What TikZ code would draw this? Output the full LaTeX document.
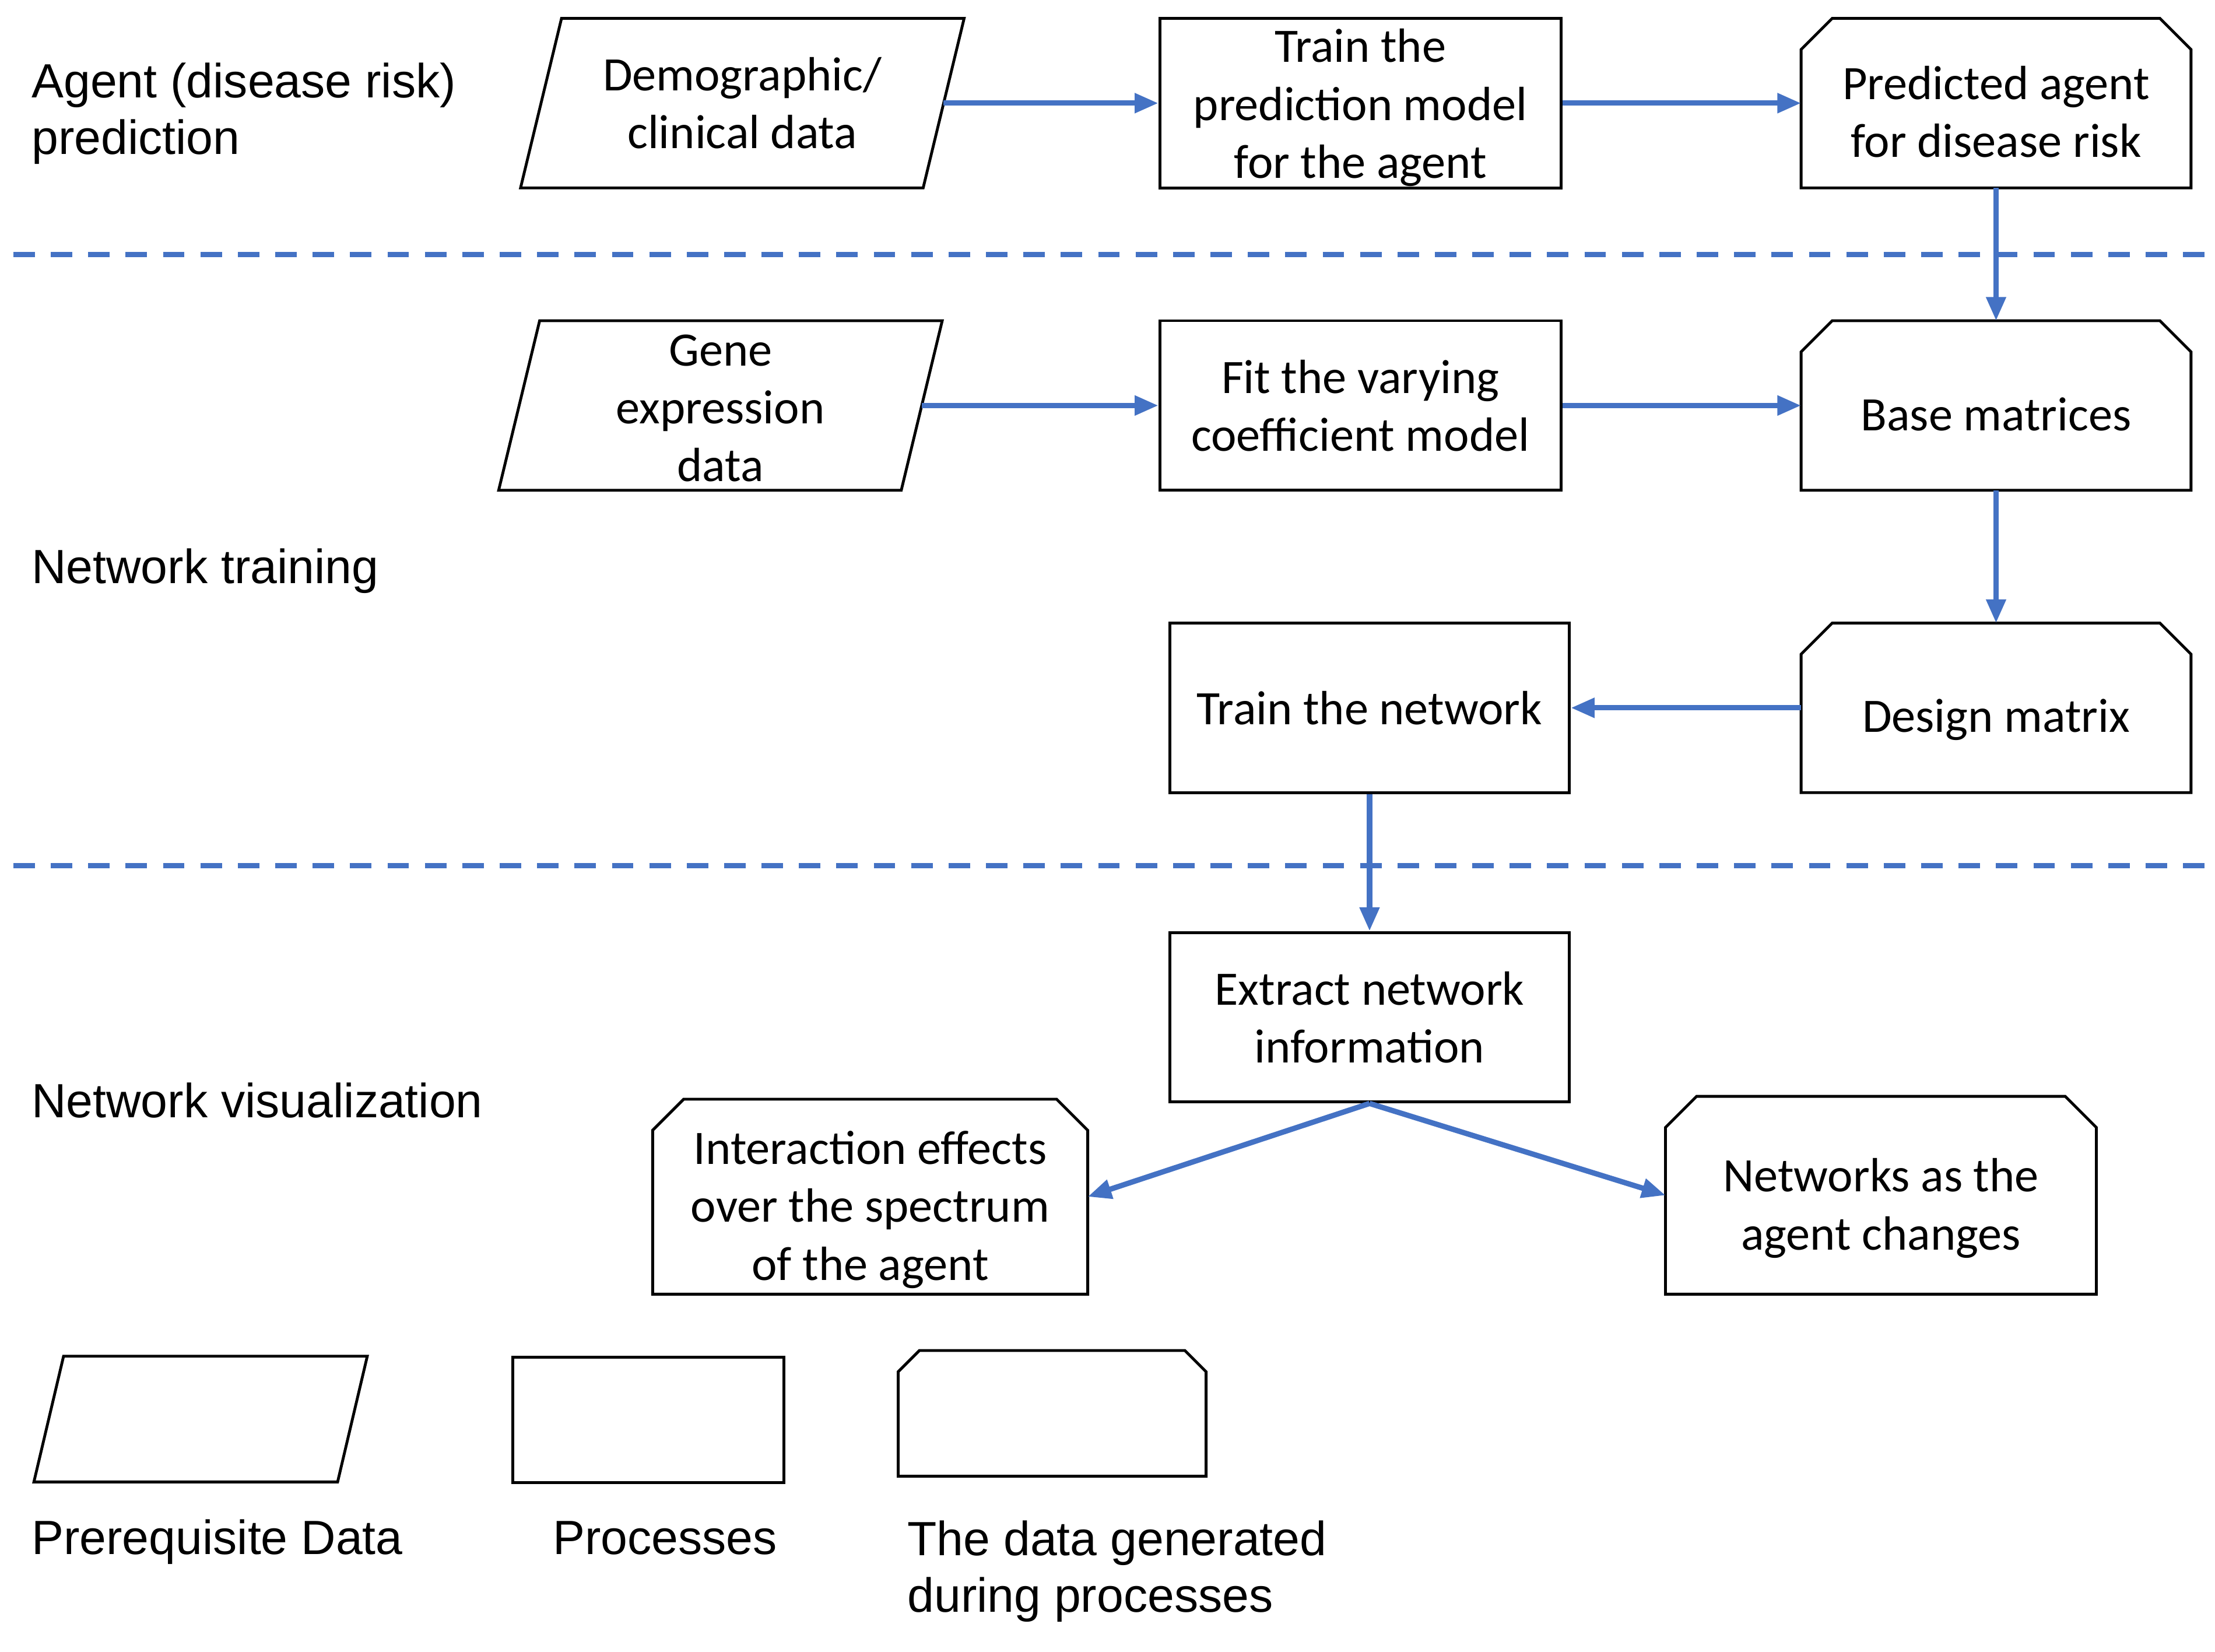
\documentclass[tikz,border=0pt]{standalone}
\usepackage{fontspec}
\setmainfont{Carlito}
\newfontfamily\labelfont{Liberation Sans}
\usepackage{tikz}
\usetikzlibrary{shapes,arrows.meta,positioning}
\definecolor{flowblue}{HTML}{4472C4}
\tikzstyle{boxtext}=[font=\fontsize{17}{20.5}\selectfont,align=center,inner sep=0pt]
\tikzstyle{prereq}=[boxtext,rectangle,outer sep=0pt,minimum width=142.5pt,minimum height=60pt]
\tikzstyle{process}=[boxtext,rectangle,draw=black,line width=1pt,minimum width=142pt,minimum height=60pt]
\tikzstyle{generated}=[boxtext,rectangle,outer sep=0pt,minimum width=138pt,minimum height=60pt]
\tikzstyle{outline}=[draw=black,line width=1pt,line join=miter]
\tikzstyle{flow}=[-{Triangle[length=8.4pt,width=6.7pt]},draw=flowblue,line width=1.9pt]
\tikzstyle{sep}=[draw=flowblue,line width=1.85pt,dash pattern=on 7.6pt off 5.64pt]
\tikzstyle{lbl}=[font=\labelfont\fontsize{17}{20}\selectfont,align=left,inner sep=0pt]
% Umrisse: schraeges Parallelogramm, Rechteck mit abgeschnittenen oberen Ecken
\newcommand{\slantbox}[2]{\draw[outline] ([xshift=#2]#1.north west) -- ([xshift=#2]#1.north east) -- ([xshift=-#2]#1.south east) -- ([xshift=-#2]#1.south west) -- cycle;}
\newcommand{\snipbox}[2]{\draw[outline] ([yshift=-#2]#1.north west) -- ([xshift=#2]#1.north west) -- ([xshift=-#2]#1.north east) -- ([yshift=-#2]#1.north east) -- (#1.south east) -- (#1.south west) -- cycle;}
\newcommand{\lift}[1]{\rule{0pt}{#1}}

\begin{document}
\begin{tikzpicture}
    \useasboundingbox (0,0) rectangle (784pt,-584.5pt);

    % Trennlinien
    \draw[sep] (4.75pt,-90.1pt) -- (780.5pt,-90.1pt);
    \draw[sep] (4.75pt,-306.4pt) -- (780.5pt,-306.4pt);

    % Bereiche
    \node[lbl, anchor=west] (stage1) at (11pt,-40.25pt) {Agent (disease risk)\\prediction};
    \node[lbl, anchor=base west] (stage2) at (11pt,-206.5pt) {Network training};
    \node[lbl, anchor=base west] (stage3) at (11pt,-395.5pt) {Network visualization};

    % Knoten
    \node[process] (trainpred) at (481.5pt,-36.5pt) {\lift{15pt}Train the\\prediction model\\for the agent};
    \node[prereq] (demo) [left=76pt of trainpred] {Demographic/\\clinical data};
    \node[generated] (predagent) [right=84.5pt of trainpred] {\lift{18pt}Predicted agent\\for disease risk};
    \node[generated] (basemat) [below=47pt of predagent] {\lift{18pt}Base matrices};
    \node[process] (fitvc) [left=84.5pt of basemat] {Fit the varying\\coefficient model};
    \node[prereq] (gene) [left=83.75pt of fitvc] {\lift{13pt}Gene\\expression\\data};
    \node[generated] (design) [below=47pt of basemat] {\lift{20pt}Design matrix};
    \node[process, minimum width=141.5pt] (trainnet) [left=81.5pt of design] {Train the network};
    \node[process, minimum width=141.5pt] (extract) [below=48.5pt of trainnet] {Extract network\\information};
    \node[generated, minimum width=154pt, minimum height=69pt] (interact) at (308pt,-423.5pt) {\lift{21pt}Interaction effects\\over the spectrum\\of the agent};
    \node[generated, minimum width=152.5pt, minimum height=70pt] (netchange) at (665.75pt,-423pt) {\lift{21pt}Networks as the\\agent changes};
    \slantbox{demo}{7.25pt}
    \slantbox{gene}{7.25pt}
    \snipbox{predagent}{11pt}
    \snipbox{basemat}{11pt}
    \snipbox{design}{11pt}
    \snipbox{interact}{11pt}
    \snipbox{netchange}{11pt}

    % Legende
    \node[prereq, minimum width=107.5pt, minimum height=44.5pt] (legdata) at (71pt,-502.2pt) {};
    \node[process, minimum width=96pt, minimum height=44.5pt] (legproc) at (229.5pt,-502.5pt) {};
    \node[generated, minimum width=109pt, minimum height=44.5pt] (leggen) at (372.4pt,-500.2pt) {};
    \slantbox{legdata}{5.25pt}
    \snipbox{leggen}{7.5pt}
    \node[lbl, anchor=base west] (legdatatext) at (11pt,-550pt) {Prerequisite Data};
    \node[lbl, anchor=base west] (legproctext) at (195.5pt,-550pt) {Processes};
    \node[lbl, anchor=west] (leggentext) at (321pt,-556pt) {The data generated\\during processes};

    % Pfeile
    \draw[flow] (demo) -- (trainpred);
    \draw[flow] (trainpred) -- (predagent);
    \draw[flow] (predagent) -- (basemat);
    \draw[flow] (gene) -- (fitvc);
    \draw[flow] (fitvc) -- (basemat);
    \draw[flow] (basemat) -- (design);
    \draw[flow] (design) -- (trainnet);
    \draw[flow] (trainnet) -- (extract);
    \draw[flow] (extract.south) -- (interact.east);
    \draw[flow] (extract.south) -- (netchange.west);

\end{tikzpicture}
\end{document}
